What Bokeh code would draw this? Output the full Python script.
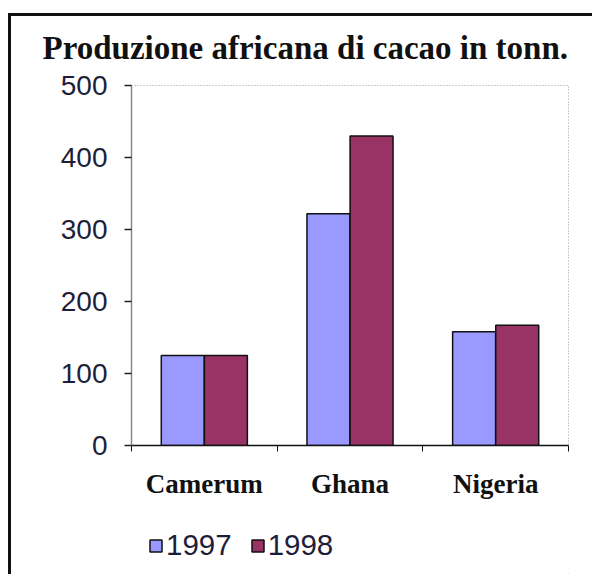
from bokeh.plotting import figure
from bokeh.layouts import column
from bokeh.models import Range1d, FixedTicker, Legend, LegendItem
from bokeh.transform import dodge
from bokeh.embed import file_html
from bokeh.resources import INLINE

# Cocoa production (thousand tonnes) by country and year
categories = ["Camerum", "Ghana", "Nigeria"]
prod_1997 = [125, 322, 158]
prod_1998 = [125, 430, 167]
years = ["1997", "1998"]
year_colors = ["#9999FF", "#993366"]
y_ticks = [0, 100, 200, 300, 400, 500]

title_text = "Produzione africana di cacao in tonn."

centers = [i + 0.5 for i in range(len(categories))]
bounds = list(range(len(categories) + 1))

W, H_MAIN, H_LEG = 592, 505, 69

p = figure(width=W, height=H_MAIN, output_backend="svg", toolbar_location=None,
           x_range=Range1d(0, len(categories)), y_range=Range1d(0, 500),
           min_border_left=131, min_border_right=24,
           min_border_top=85, min_border_bottom=60)
p.background_fill_color = "white"
p.border_fill_alpha = 0
p.outline_line_color = "#9a9a9a"
p.outline_line_dash = "1 2"
p.grid.visible = False

p.title.text = title_text
p.title.align = "left"
p.title.offset = -89
p.title.standoff = 40
p.title.text_font = "Liberation Serif"
p.title.text_font_style = "bold"
p.title.text_font_size = "33px"
p.title.text_color = "#111111"

src = dict(x=centers, y1997=prod_1997, y1998=prod_1998)
p.vbar(x=dodge("x", -0.148, range=p.x_range), top="y1997", width=0.295,
       source=src, fill_color=year_colors[0], line_color="#111111", line_width=1.5)
p.vbar(x=dodge("x", 0.148, range=p.x_range), top="y1998", width=0.295,
       source=src, fill_color=year_colors[1], line_color="#111111", line_width=1.5)

# x axis: labels at category centres, tick marks at category boundaries
xa = p.xaxis[0]
xa.ticker = FixedTicker(ticks=centers, minor_ticks=bounds)
xa.major_label_overrides = {c: name for c, name in zip(centers, categories)}
xa.major_tick_line_color = None
xa.minor_tick_line_color = "#111111"
xa.minor_tick_out = 6
xa.minor_tick_in = 0
xa.axis_line_color = "#111111"
xa.axis_line_width = 1.5
xa.major_label_text_font = "Liberation Serif"
xa.major_label_text_font_style = "bold"
xa.major_label_text_font_size = "27px"
xa.major_label_text_color = "#111111"
xa.major_label_standoff = 17

ya = p.yaxis[0]
ya.ticker = FixedTicker(ticks=y_ticks, minor_ticks=[])
ya.axis_line_color = "#888888"
ya.axis_line_width = 1.5
ya.major_tick_line_color = "#222222"
ya.major_tick_line_width = 1.5
ya.major_tick_out = 7
ya.major_tick_in = 0
ya.minor_tick_line_color = None
ya.major_label_text_font = "Liberation Sans"
ya.major_label_text_font_size = "28px"
ya.major_label_text_color = "#1e1e3a"
ya.major_label_standoff = 17

# legend strip underneath the chart (its frame lines up with the chart frame)
leg = figure(width=W, height=H_LEG, output_backend="svg", toolbar_location=None,
             x_range=Range1d(0, 1), y_range=Range1d(0, 1),
             min_border=0, x_axis_location=None, y_axis_location=None)
leg.grid.visible = False
leg.outline_line_color = None
leg.background_fill_alpha = 0
leg.border_fill_alpha = 0
# swatch renderers: one zero-height bar each, placed outside the visible range
swatches = [leg.vbar(x=[5], top=[0], width=0.1, fill_color=c,
                     line_color="#111111", line_width=1.5) for c in year_colors]
legend = Legend(items=[LegendItem(label=y, renderers=[r])
                       for y, r in zip(years, swatches)],
                orientation="horizontal", location=(17, 12),
                glyph_width=15, glyph_height=15, label_standoff=3, spacing=18,
                padding=0, margin=0, border_line_color=None,
                background_fill_alpha=0,
                label_text_font="Liberation Sans", label_text_font_size="29.5px",
                label_text_color="#1e1e3a")
leg.add_layout(legend, "center")

# page frame: dark rules along the left and top edges
page = column(p, leg, spacing=0, styles={
    "background-color": "white",
    "background-image": "linear-gradient(#111,#111), linear-gradient(#111,#111)",
    "background-size": "3px 100%, 100% 3px",
    "background-position": "8px 13px, 8px 13px",
    "background-repeat": "no-repeat",
})

open("out.html", "w").write(file_html(page, INLINE))
